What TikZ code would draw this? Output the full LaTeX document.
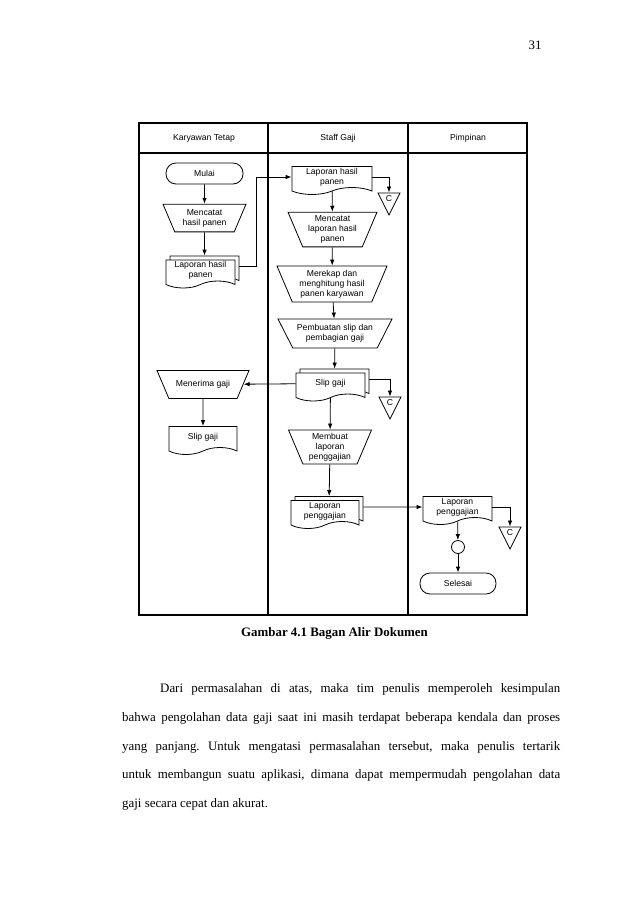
\documentclass[tikz,border=0pt]{standalone}
\usepackage{fontspec}
\setmainfont{Liberation Serif}
\newfontfamily\arialfont{Liberation Sans}
\usetikzlibrary{shapes,arrows,arrows.meta,calc}
\frenchspacing

\begin{document}
\begin{tikzpicture}[x=1pt, y=-1pt,
    every node/.style={font=\arialfont\fontsize{8.6}{10}\selectfont, align=center, inner sep=1pt},
    flow/.style={draw, line width=0.8pt},
    terminal/.style={flow, rectangle, rounded corners=10pt, minimum width=77pt, minimum height=21pt},
    manual/.style={flow, trapezium, trapezium left angle=113, trapezium right angle=113,
        trapezium stretches body, inner ysep=5pt},
    doc/.style={flow, fill=white, tape, tape bend top=none, tape bend bottom=in and out,
        tape bend height=7pt, minimum width=69pt, minimum height=28pt},
    offpage/.style={flow, isosceles triangle, isosceles triangle apex angle=53,
        isosceles triangle stretches, shape border rotate=270,
        minimum width=22pt, minimum height=22pt, inner sep=0pt},
    arr/.style={line width=0.8pt, -{Latex[length=6pt,width=4.5pt]}},
    lane/.style={line width=1.1pt},
    body/.style={font=\fontsize{12.9}{15}\selectfont, anchor=base west, inner sep=0pt}]

    \useasboundingbox (0,0) rectangle (638,903);

    % page number
    \node[font=\fontsize{12.9}{15}\selectfont, anchor=base, inner sep=0pt] (hal) at (535,49) {31};

    % swimlanes
    \draw[lane] (139,123) rectangle (527,615);
    \draw[lane] (139,153) -- (527,153);
    \draw[lane] (268,123) -- (268,615);
    \draw[lane] (408,123) -- (408,615);
    \node (hKar) at (204,138) {Karyawan Tetap};
    \node (hStaff) at (338,138) {Staff Gaji};
    \node (hPim) at (468,138) {Pimpinan};

    % Karyawan Tetap
    \node[terminal] (mulai) at (204.5,173.5) {Mulai};
    \node[manual, minimum width=83pt] (catat) at (204.5,218) {Mencatat\\hasil panen};
    \node[doc] (lapKb) at (204.5,266.5) {};
    \node[doc] (lapK) at (200.5,270.5) {Laporan hasil\\panen};
    \node[manual, minimum width=92pt, inner ysep=10pt] (terima) at (203,384.5) {Menerima gaji};
    \node[doc, minimum width=68pt] (slipK) at (203,437) {Slip gaji};

    % Staff Gaji
    \node[doc, minimum width=80pt] (lapS) at (332,177) {Laporan hasil\\panen};
    \node[offpage] (c1) at (389,199) {C};
    \node[manual, minimum width=89pt, inner ysep=3.5pt] (catatS) at (332.5,229.5) {Mencatat\\laporan hasil\\panen};
    \node[manual, minimum width=110pt, inner ysep=4pt] (rekap) at (332,284) {Merekap dan\\menghitung hasil\\panen karyawan};
    \node[manual, minimum width=114pt, inner ysep=5.5pt, trapezium left angle=117, trapezium right angle=117] (buat) at (335,333.5) {Pembuatan slip dan\\pembagian gaji};
    \node[doc] (slipSb) at (334.5,379.5) {};
    \node[doc] (slipS) at (330.5,383.5) {Slip gaji};
    \node[offpage] (c2) at (390,403) {C};
    \node[manual, minimum width=83pt, inner ysep=3pt] (lapor) at (330,447) {Membuat\\laporan\\penggajian};
    \node[doc, minimum width=68pt] (lapGb) at (329,507) {};
    \node[doc, minimum width=68pt] (lapG) at (325,511) {Laporan\\penggajian};

    % Pimpinan
    \node[doc] (lapP) at (457.5,507) {Laporan\\penggajian};
    \node[offpage] (c3) at (510,533) {C};
    \node[flow, circle, minimum size=13pt, inner sep=0pt] (sambung) at (458,547) {};
    \node[terminal, minimum width=76pt] (selesai) at (458,583.5) {Selesai};

    % arus dokumen
    \draw[arr] (mulai) -- (catat);
    \draw[arr] (catat) -- (lapKb);
    \draw[arr] (lapKb.east) -- ++(17,0) |- (lapS);
    \draw[arr] (lapS) -| (c1);
    \draw[arr] (lapS) -- (catatS);
    \draw[arr] (catatS) -- (rekap);
    \draw[arr] (rekap) -- (buat);
    \draw[arr] (buat) -- (slipSb);
    \draw[arr] (slipS) -- (terima);
    \draw[arr] (terima) -- (slipK);
    \draw[arr] (slipSb) -| (c2);
    \draw[arr] (slipS) -- (lapor);
    \draw[arr] (lapor) -- (lapGb);
    \draw[arr] (lapGb) -- (lapP);
    \draw[arr] (lapP) -| (c3);
    \draw[arr] (lapP) -- (sambung);
    \draw[arr] (sambung) -- (selesai);

    % caption and text
    \node[font=\fontsize{12.9}{15}\selectfont\bfseries, anchor=base, inner sep=0pt] (cap) at (334.5,636) {Gambar 4.1 Bagan Alir Dokumen};
    \node[body] (p1) at (160,692.5) {\makebox[400pt][s]{Dari permasalahan di atas, maka tim penulis memperoleh kesimpulan}};
    \node[body] (p2) at (122,721.25) {\makebox[438pt][s]{bahwa pengolahan data gaji saat ini masih terdapat beberapa kendala dan proses}};
    \node[body] (p3) at (122,750) {\makebox[438pt][s]{yang panjang. Untuk mengatasi permasalahan tersebut, maka penulis tertarik}};
    \node[body] (p4) at (122,778.75) {\makebox[438pt][s]{untuk membangun suatu aplikasi, dimana dapat mempermudah pengolahan data}};
    \node[body] (p5) at (122,807.5) {gaji secara cepat dan akurat.};
\end{tikzpicture}
\end{document}
